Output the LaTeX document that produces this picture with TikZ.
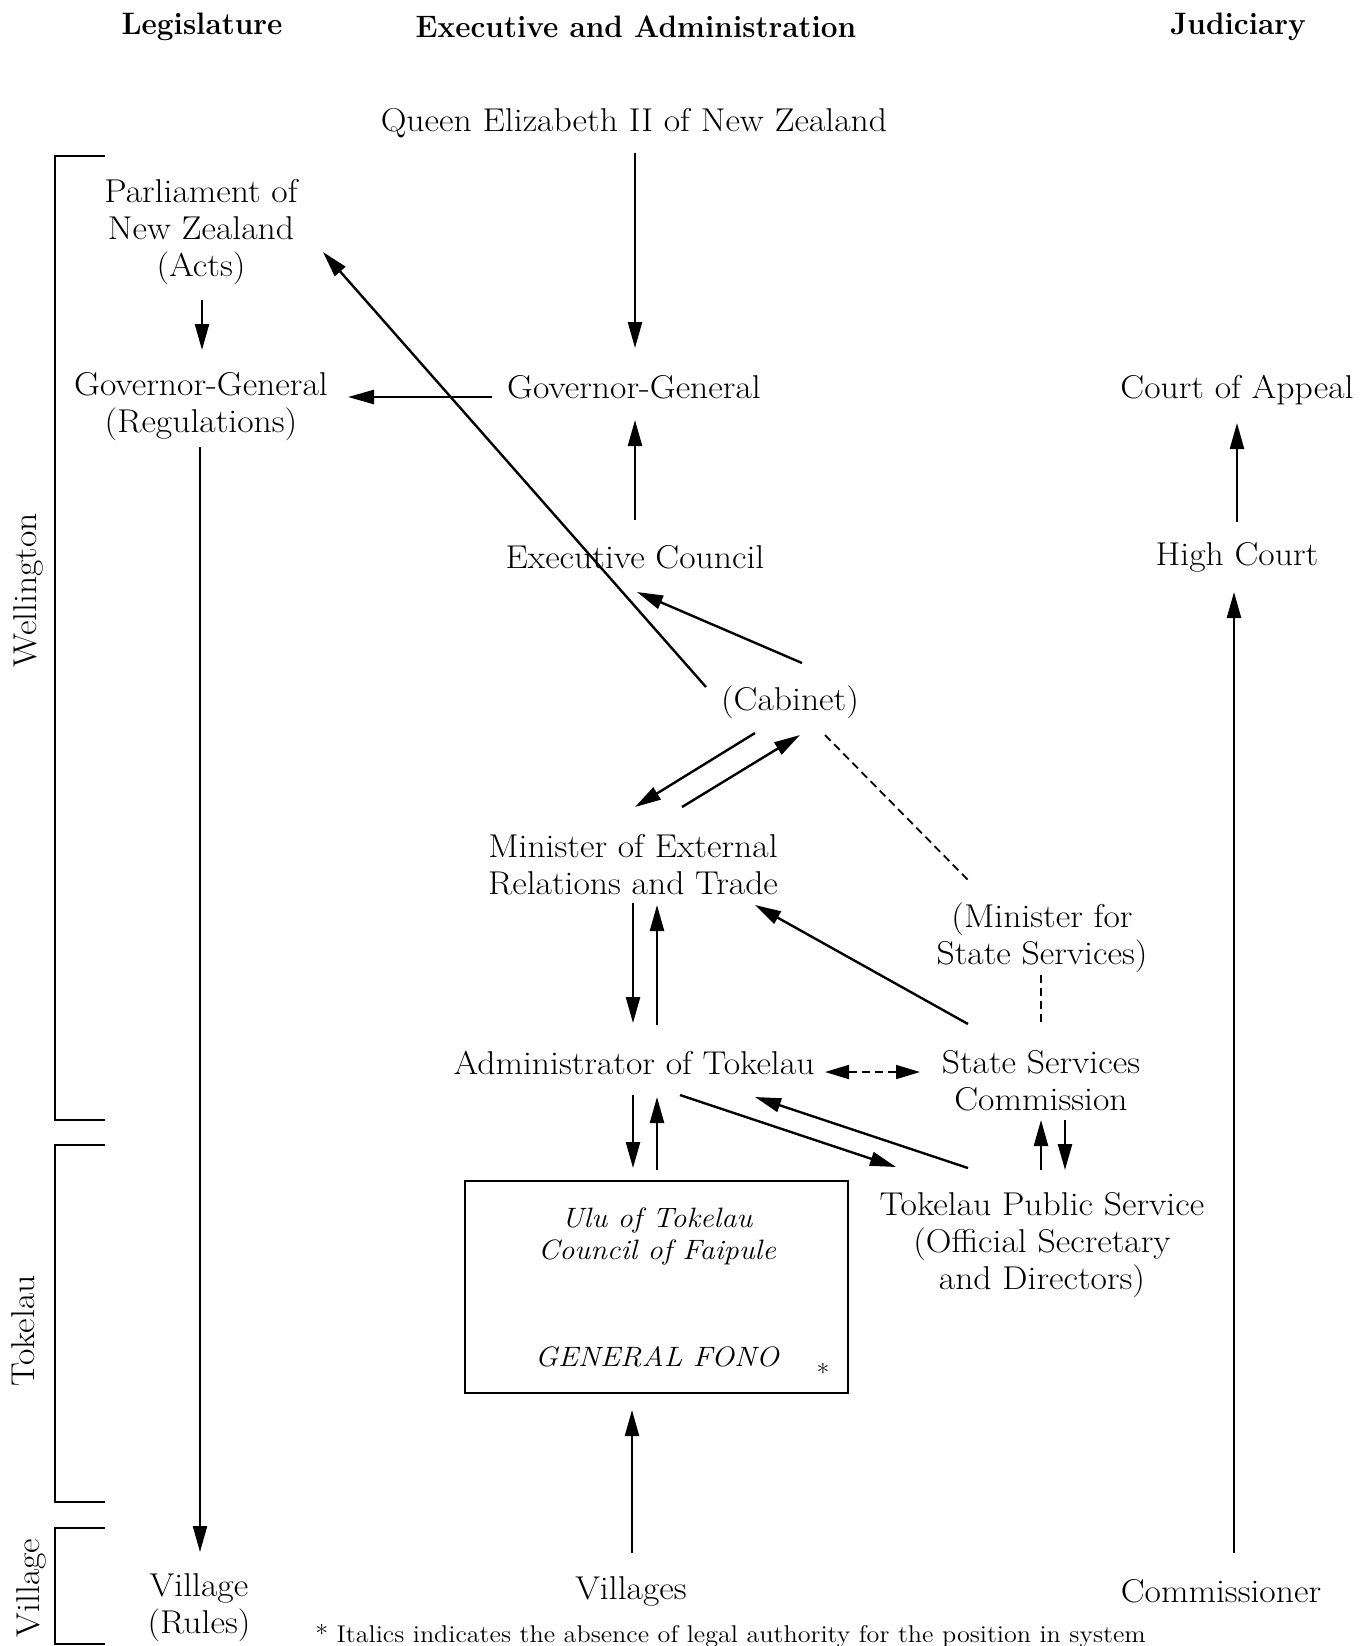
\documentclass[tikz,border=0pt]{standalone}
\usepackage{fontspec}
\setmainfont{Latin Modern Roman}[FakeStretch=1.08]
\newfontfamily\hdrfam{Latin Modern Roman}[FakeStretch=0.96]
\usetikzlibrary{arrows.meta}
\newcommand\bodyf{\fontsize{16.5}{18.5}\selectfont}
\newcommand\headf{\hdrfam\fontsize{15.5}{17}\selectfont\bfseries}
\newcommand\itf{\fontsize{14}{16}\selectfont\itshape}
\newcommand\footf{\fontsize{12.1}{14}\selectfont}
\begin{document}
\begin{tikzpicture}[x=0.5pt,y=-0.5pt,
  txt/.style={font=\bodyf, align=center, inner sep=0pt, outer sep=0pt},
  hdr/.style={font=\headf, inner sep=0pt, outer sep=0pt},
  arr/.style={line width=1.2pt, -{Triangle[length=13pt,width=7pt]}},
  dsh/.style={line width=0.9pt, dash pattern=on 4pt off 2.5pt},
  dsharr/.style={dsh, {Triangle[length=12pt,width=7pt]}-{Triangle[length=12pt,width=7pt]}},
  brk/.style={line width=1.4pt}]
\fill[white] (0,0) rectangle (1372,1646);
\useasboundingbox (0,0) rectangle (1372,1646);

% headers
\node[hdr] (hLeg) at (202,27) {Legislature};
\node[hdr] (hExe) at (636,27) {Executive and Administration};
\node[hdr] (hJud) at (1238,27) {Judiciary};

% side brackets
\draw[brk] (105,156) -- (55,156) -- (55,1120) -- (105,1120);
\draw[brk] (105,1145) -- (55,1145) -- (55,1502) -- (105,1502);
\draw[brk] (105,1528) -- (55,1528) -- (55,1644) -- (105,1644);
\node[txt, rotate=90] (wel) at (28,590) {Wellington};
\node[txt, rotate=90] (tok) at (23,1331) {Tokelau};
\node[txt, rotate=90] (vlg) at (31,1588) {Village};

% nodes
\node[txt] (Q) at (634,123) {Queen Elizabeth II of New Zealand};
\node[txt] (P) at (201,232) {Parliament of\\New Zealand\\(Acts)};
\node[txt] (L) at (201,407) {Governor-General\\(Regulations)};
\node[txt] (G) at (634,387) {Governor-General};
\node[txt] (E) at (635,557) {Executive Council};
\node[txt] (A) at (1237,390) {Court of Appeal};
\node[txt] (H) at (1237,557) {High Court};
\node[txt] (C) at (790,702) {(Cabinet)};
\node[txt] (M) at (633,865) {Minister of External\\Relations and Trade};
\node[txt] (S) at (1042,938) {(Minister for\\State Services)};
\node[txt] (D) at (634,1063) {Administrator of Tokelau};
\node[txt] (K) at (1041,1081) {State Services\\Commission};
\node[txt] (T) at (1042,1245) {Tokelau Public Service\\(Official Secretary\\and Directors)};
\node[draw, line width=1.3pt, inner sep=0pt, outer sep=0pt,
      minimum width=191.5pt, minimum height=106pt] (B) at (656.5,1287) {};
\node[txt, font=\itf] (ulu) at (657,1236) {Ulu of Tokelau\\Council of Faipule};
\node[txt, font=\itf] (fono) at (657,1357) {GENERAL FONO};
\node[txt, font=\footf] (star) at (823,1372) {*};
\node[txt] (V) at (631,1591) {Villages};
\node[txt] (O) at (1221,1591) {Commissioner};
\node[txt] (R) at (199,1608) {Village\\(Rules)};
\node[font=\footf, inner sep=0pt, anchor=west] (foot) at (315,1636)
  {* Italics indicates the absence of legal authority for the position in system};

% connectors
\draw[arr] ([shift={(1,30)}]Q.center) -- ([shift={(1,-39)}]G.center);
\draw[arr] ([shift={(1,68)}]P.center) -- ([shift={(1,-57)}]L.center);
\draw[arr] ([shift={(-142,10)}]G.center) -- ([shift={(147,-10)}]L.center);
\draw[arr] ([shift={(0,-37)}]E.center) -- ([shift={(1,33)}]G.center);
\draw[arr] ([shift={(0,-35)}]H.center) -- ([shift={(0,33)}]A.center);
\draw[arr] ([shift={(13,-38)}]O.center) -- ([shift={(-3,35)}]H.center);
\draw[arr] ([shift={(-84,-15)}]C.center) -- ([shift={(122,20)}]P.center);
\draw[arr] ([shift={(12,-39)}]C.center) -- ([shift={(2,35)}]E.center);
\draw[arr] ([shift={(-35,31)}]C.center) -- ([shift={(2,-58)}]M.center);
\draw[arr] ([shift={(49,-58)}]M.center) -- ([shift={(10,33)}]C.center);
\draw[dsh] ([shift={(35,33)}]C.center) -- ([shift={(-74,-58)}]S.center);
\draw[dsh] ([shift={(-1,37)}]S.center) -- ([shift={(0,-56)}]K.center);
\draw[arr] ([shift={(-73,-57)}]K.center) -- ([shift={(122,40)}]M.center);
\draw[arr] ([shift={(0,38)}]M.center) -- ([shift={(-1,-40)}]D.center);
\draw[arr] ([shift={(23,-38)}]D.center) -- ([shift={(24,40)}]M.center);
\draw[dsharr] ([shift={(191,9)}]D.center) -- ([shift={(-121,-9)}]K.center);
\draw[arr] ([shift={(-1,32)}]D.center) -- ([shift={(-23.5,-13)}]B.north);
\draw[arr] ([shift={(0.5,-11)}]B.north) -- ([shift={(23,34)}]D.center);
\draw[arr] ([shift={(46,32)}]D.center) -- ([shift={(-146,-78)}]T.center);
\draw[arr] ([shift={(-74,-77)}]T.center) -- ([shift={(121,34)}]D.center);
\draw[arr] ([shift={(-1,-75)}]T.center) -- ([shift={(0,39)}]K.center);
\draw[arr] ([shift={(24,39)}]K.center) -- ([shift={(23,-75)}]T.center);
\draw[arr] ([shift={(1,-38)}]V.center) -- ([shift={(-24.5,17)}]B.south);
\draw[arr] ([shift={(-1,40)}]L.center) -- ([shift={(1,-56)}]R.center);
\end{tikzpicture}
\end{document}
